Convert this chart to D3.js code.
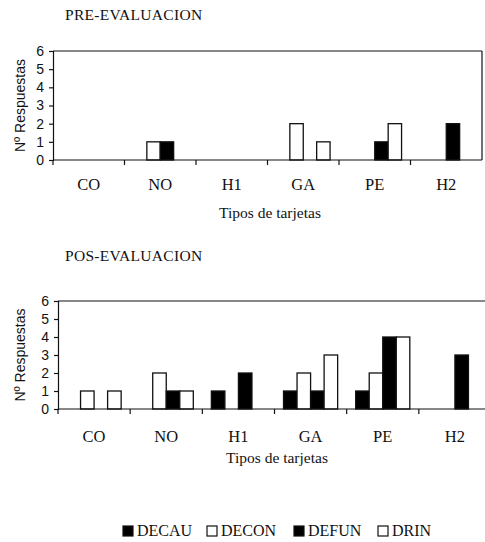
<!DOCTYPE html>
<html lang="es">
<head>
    <meta charset="UTF-8">
    <title>Tipos de tarjetas - pre / pos evaluacion</title>
    <style>
    body {
        margin: 0;
        background: #fff;
    }
    svg {
        display: block;
    }
    </style>
</head>
<body>
<div id="chart"></div>
<script src="https://d3js.org/d3.v7.min.js"></script>
<script>
var categories = ["CO", "NO", "H1", "GA", "PE", "H2"];
var series = ["DECAU", "DECON", "DEFUN", "DRIN"];
var seriesFill = ["black", "white", "black", "white"];

// valores PRE-EVALUACION, uno por categoria
var preDECAU = [0, 0, 0, 0, 0, 0];
var preDECON = [0, 1, 0, 2, 0, 0];
var preDEFUN = [0, 1, 0, 0, 1, 2];
var preDRIN  = [0, 0, 0, 1, 2, 0];

// valores POS-EVALUACION
var posDECAU = [0, 0, 1, 1, 1, 0];
var posDECON = [1, 2, 0, 2, 2, 0];
var posDEFUN = [0, 1, 2, 1, 4, 3];
var posDRIN  = [1, 1, 0, 3, 4, 0];

var yTicks = [0, 1, 2, 3, 4, 5, 6];

var SERIF = "'Liberation Serif', 'Times New Roman', serif";
var SANS = "'Liberation Sans', Arial, sans-serif";
var INK = "#111";

var svg = d3.select("#chart").append("svg")
    .attr("width", 485)
    .attr("height", 542);

function panel(opts) {
    var g = svg.append("g");
    var values = opts.values;

    var x = d3.scaleBand()
        .domain(categories)
        .range([opts.left, opts.right])
        .padding(0);
    var bw = x.bandwidth();
    var x1 = d3.scaleBand()
        .domain(series)
        .range([bw * 0.125, bw * 0.875])
        .padding(0);
    var y = d3.scaleLinear()
        .domain([0, 6])
        .range([opts.bottom, opts.top]);

    g.append("text")
        .attr("x", 65)
        .attr("y", opts.titleY)
        .style("font-family", SERIF)
        .style("font-size", "15.5px")
        .style("letter-spacing", "0.3px")
        .style("fill", INK)
        .text(opts.title);

    // frame: top line (and right side for the top chart)
    g.append("line")
        .attr("x1", opts.left).attr("x2", Math.min(opts.right, 485))
        .attr("y1", y(6)).attr("y2", y(6))
        .attr("stroke", INK).attr("stroke-width", 1.2);
    if (opts.rightBorder) {
        g.append("line")
            .attr("x1", opts.right).attr("x2", opts.right)
            .attr("y1", y(6)).attr("y2", y(0))
            .attr("stroke", INK).attr("stroke-width", 1.2);
    }

    // bars
    series.forEach(function(s, si) {
        g.append("g").selectAll("rect")
            .data(values[si].map(function(v, i) { return {cat: categories[i], v: v}; })
                .filter(function(d) { return d.v > 0; }))
            .enter().append("rect")
            .attr("x", function(d) { return x(d.cat) + x1(s); })
            .attr("y", function(d) { return y(d.v); })
            .attr("width", x1.bandwidth())
            .attr("height", function(d) { return y(0) - y(d.v); })
            .attr("fill", seriesFill[si])
            .attr("stroke", INK)
            .attr("stroke-width", 1.3);
    });

    // y axis
    var ya = g.append("g")
        .attr("transform", "translate(" + opts.left + ",0)")
        .call(d3.axisLeft(y).tickValues(yTicks).tickSize(4).tickPadding(5).tickFormat(d3.format("d")));
    ya.select(".domain").attr("stroke", INK).attr("stroke-width", 1.2);
    ya.selectAll(".tick line").attr("stroke", INK).attr("stroke-width", 1.2);
    ya.selectAll(".tick text")
        .style("font-family", SANS)
        .style("font-size", "14px")
        .style("fill", INK);

    // x axis line and ticks at category boundaries
    g.append("line")
        .attr("x1", opts.left).attr("x2", Math.min(opts.right, 485))
        .attr("y1", y(0)).attr("y2", y(0))
        .attr("stroke", INK).attr("stroke-width", 1.2);
    g.selectAll(".xtick")
        .data(categories)
        .enter().append("line")
        .attr("class", "xtick")
        .attr("x1", function(d) { return x(d); })
        .attr("x2", function(d) { return x(d); })
        .attr("y1", y(0))
        .attr("y2", y(0) + 5)
        .attr("stroke", INK).attr("stroke-width", 1.2);

    g.selectAll(".cat")
        .data(categories)
        .enter().append("text")
        .attr("class", "cat")
        .attr("text-anchor", "middle")
        .attr("x", function(d) { return x(d) + bw / 2; })
        .attr("y", opts.catY)
        .style("font-family", SERIF)
        .style("font-size", "16.5px")
        .style("fill", INK)
        .text(function(d) { return d; });

    g.append("text")
        .attr("text-anchor", "middle")
        .attr("x", opts.xLabelX)
        .attr("y", opts.xLabelY)
        .style("font-family", SERIF)
        .style("font-size", "15.5px")
        .style("fill", INK)
        .text("Tipos de tarjetas");

    g.append("text")
        .attr("text-anchor", "middle")
        .attr("transform", "translate(25," + ((y(0) + y(6)) / 2) + ") rotate(-90)")
        .style("font-family", SANS)
        .style("font-size", "14px")
        .style("fill", INK)
        .text("N\u00ba Respuestas");
}

panel({
    title: "PRE-EVALUACION", titleY: 20,
    values: [preDECAU, preDECON, preDEFUN, preDRIN],
    left: 53, right: 482, top: 51, bottom: 160,
    rightBorder: true,
    catY: 190, xLabelX: 270, xLabelY: 218
});

panel({
    title: "POS-EVALUACION", titleY: 261,
    values: [posDECAU, posDECON, posDEFUN, posDRIN],
    left: 58, right: 491, top: 301, bottom: 409,
    rightBorder: false,
    catY: 442, xLabelX: 277, xLabelY: 463
});

// legend
var legendX = [123, 207, 294, 378];
var legend = svg.append("g").selectAll("g")
    .data(series)
    .enter().append("g")
    .attr("transform", function(d, i) { return "translate(" + legendX[i] + ",526)"; });
legend.append("rect")
    .attr("width", 10)
    .attr("height", 10)
    .attr("fill", function(d, i) { return seriesFill[i]; })
    .attr("stroke", INK)
    .attr("stroke-width", 1.2);
legend.append("text")
    .attr("x", 14)
    .attr("y", 10)
    .style("font-family", SERIF)
    .style("font-size", "16px")
    .style("fill", INK)
    .text(function(d) { return d; });
</script>
</body>
</html>
